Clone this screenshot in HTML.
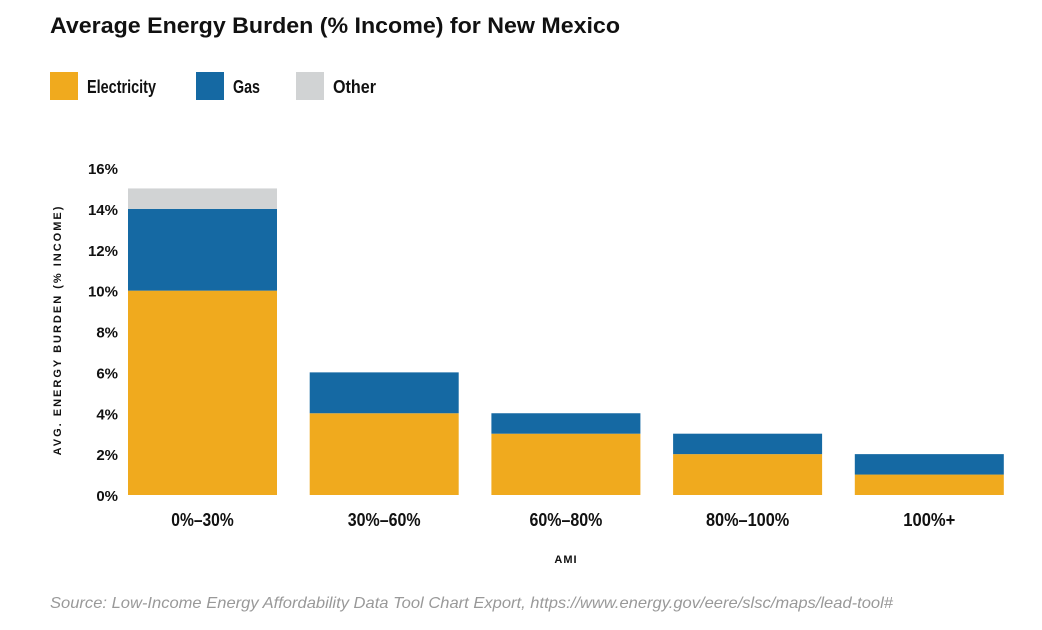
<!DOCTYPE html>
<html><head><meta charset="utf-8"><style>
body{margin:0;width:1042px;height:625px;background:#fff;font-family:"Liberation Sans",sans-serif;overflow:hidden}
</style></head><body>
<svg width="1042" height="625" xmlns="http://www.w3.org/2000/svg">
<text x="50" y="33" font-size="22" font-weight="bold" fill="#111" textLength="570" lengthAdjust="spacingAndGlyphs">Average Energy Burden (% Income) for New Mexico</text>
<g id="legend"></g>
<g id="yaxis"></g>
<g id="bars"></g>
<g id="xaxis"></g>
<text transform="translate(61,330) rotate(-90)" text-anchor="middle" font-size="11" font-weight="bold" letter-spacing="2" fill="#111">AVG. ENERGY BURDEN (% INCOME)</text>
<text x="566" y="563" text-anchor="middle" font-size="11" font-weight="bold" letter-spacing="1" fill="#111">AMI</text>
<text x="50" y="608" font-size="16" font-style="italic" fill="#999" textLength="843" lengthAdjust="spacingAndGlyphs">Source: Low-Income Energy Affordability Data Tool Chart Export, https://www.energy.gov/eere/slsc/maps/lead-tool#</text>
</svg>
<script>
const categories=["0%–30%","30%–60%","60%–80%","80%–100%","100%+"];
const electricity=[10,4,3,2,1];
const gas=[4,2,1,1,1];
const other=[1,0,0,0,0];
const yTicks=[0,2,4,6,8,10,12,14,16];
const seriesNames=["Electricity","Gas","Other"];
const colors=["#F0AA1E","#1569A3","#D1D3D4"];
const NS="http://www.w3.org/2000/svg";
function y(v){return 495-v*(327/16);}
function xLeft(i){return 128+i*181.7;}
const bw=149;
function mk(tag,attrs,parent,text){const e=document.createElementNS(NS,tag);for(const k in attrs)e.setAttribute(k,attrs[k]);if(text!==undefined)e.textContent=text;document.getElementById(parent).appendChild(e);return e;}
const legendWidths=[69,27,43];
seriesNames.forEach((n,i)=>{
 const lx=[50,196,296][i];
 const r=mk('rect',{x:lx,y:72,width:28,height:28,fill:colors[i]},'legend');
 
 
 const t=mk('text',{x:lx+37,y:93,'font-size':18,'font-weight':'bold',fill:'#111',textLength:legendWidths[i],lengthAdjust:'spacingAndGlyphs'},'legend',n);
 
 
});
yTicks.forEach(v=>{
 const t=mk('text',{x:118,y:y(v)+6,'text-anchor':'end','font-size':15,'font-weight':'bold',fill:'#111'},'yaxis',v+'%');
 
 
});
const series=[electricity,gas,other];
categories.forEach((c,i)=>{
 let base=0;
 series.forEach((s,j)=>{
  if(s[i]>0){
   const r=mk('rect',{x:xLeft(i),y:y(base+s[i]),width:bw,height:y(base)-y(base+s[i]),fill:colors[j]},'bars');
   
   
  }
  base+=s[i];
 });
 const t=mk('text',{x:xLeft(i)+bw/2,y:526,'text-anchor':'middle','font-size':18,'font-weight':'bold',fill:'#111',textLength:c.length*10.4,lengthAdjust:'spacingAndGlyphs'},'xaxis',c);
 
 
});
</script>
</body></html>
